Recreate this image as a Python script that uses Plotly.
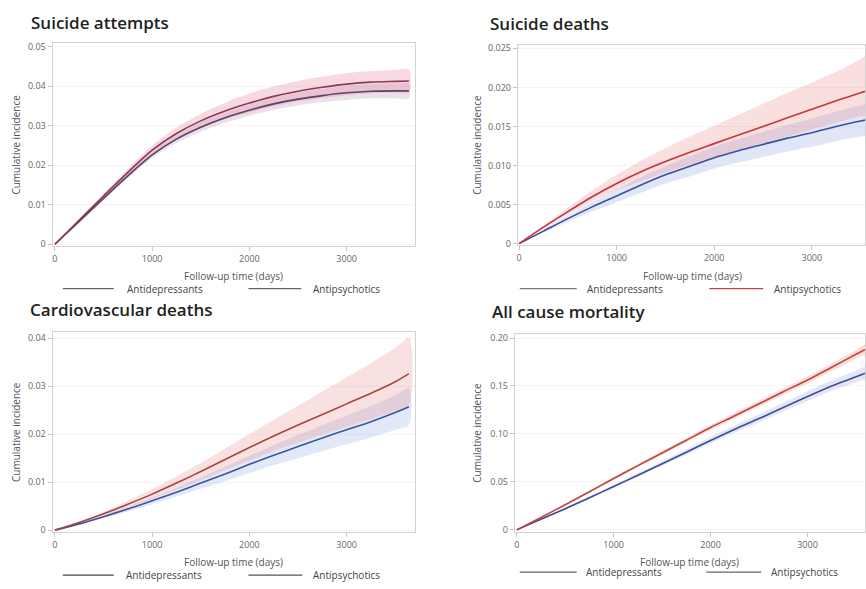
import plotly.graph_objects as go

# ---------------------------------------------------------------------------
# Cumulative incidence by follow-up day, antidepressants vs antipsychotics
# ---------------------------------------------------------------------------
days = [0, 250, 500, 750, 1000, 1250, 1500, 1750, 2000, 2250, 2500, 2750,
        3000, 3250, 3500, 3640]

# Suicide attempts
att_ap = [0, 0.0061, 0.0122, 0.0182, 0.0238, 0.0280, 0.0312, 0.0337, 0.0357,
          0.0374, 0.0387, 0.0397, 0.0405, 0.0410, 0.0412, 0.0413]
att_ap_hi = [0, 0.0064, 0.0128, 0.0191, 0.0250, 0.0295, 0.0330, 0.0358, 0.0381,
             0.0399, 0.0413, 0.0424, 0.0433, 0.0438, 0.0441, 0.0442]
att_ap_lo = [0, 0.0058, 0.0116, 0.0173, 0.0226, 0.0265, 0.0294, 0.0316, 0.0333,
             0.0349, 0.0361, 0.0370, 0.0377, 0.0382, 0.0383, 0.0384]
att_ad = [0, 0.0058, 0.0116, 0.0173, 0.0226, 0.0266, 0.0296, 0.0320, 0.0339,
          0.0355, 0.0367, 0.0376, 0.0383, 0.0387, 0.0388, 0.0388]
att_ad_hi = [0, 0.0060, 0.0120, 0.0179, 0.0234, 0.0276, 0.0308, 0.0333, 0.0353,
             0.0370, 0.0383, 0.0393, 0.0401, 0.0405, 0.0407, 0.0407]
att_ad_lo = [0, 0.0056, 0.0112, 0.0167, 0.0218, 0.0256, 0.0284, 0.0307, 0.0325,
             0.0340, 0.0351, 0.0359, 0.0365, 0.0369, 0.0369, 0.0369]

# Suicide deaths
sd_ap = [0, 0.0021, 0.0041, 0.0060, 0.0077, 0.0092, 0.0105, 0.0117, 0.0128,
         0.0139, 0.0150, 0.0161, 0.0172, 0.0183, 0.0193, 0.0199]
sd_ap_hi = [0, 0.0023, 0.0046, 0.0068, 0.0088, 0.0106, 0.0122, 0.0137, 0.0151,
            0.0165, 0.0179, 0.0193, 0.0206, 0.0220, 0.0236, 0.0245]
sd_ap_lo = [0, 0.0019, 0.0037, 0.0054, 0.0068, 0.0080, 0.0091, 0.0101, 0.0110,
            0.0119, 0.0128, 0.0137, 0.0146, 0.0155, 0.0163, 0.0167]
sd_ad = [0, 0.0016, 0.0032, 0.0047, 0.0061, 0.0075, 0.0088, 0.0099, 0.0110,
         0.0119, 0.0127, 0.0135, 0.0142, 0.0150, 0.0157, 0.0160]
sd_ad_hi = [0, 0.0018, 0.0036, 0.0053, 0.0069, 0.0085, 0.0099, 0.0112, 0.0124,
            0.0134, 0.0143, 0.0152, 0.0160, 0.0169, 0.0177, 0.0181]
sd_ad_lo = [0, 0.0014, 0.0028, 0.0041, 0.0053, 0.0065, 0.0077, 0.0086, 0.0096,
            0.0104, 0.0111, 0.0118, 0.0124, 0.0131, 0.0137, 0.0139]

# Cardiovascular deaths
cv_ap = [0, 0.0016, 0.0034, 0.0054, 0.0075, 0.0098, 0.0122, 0.0147, 0.0172,
         0.0196, 0.0219, 0.0241, 0.0263, 0.0285, 0.0309, 0.0326]
cv_ap_hi = [0, 0.0018, 0.0038, 0.0061, 0.0085, 0.0112, 0.0140, 0.0170, 0.0200,
            0.0230, 0.0259, 0.0289, 0.0318, 0.0348, 0.0380, 0.0400]
cv_ap_lo = [0, 0.0014, 0.0030, 0.0047, 0.0065, 0.0084, 0.0104, 0.0125, 0.0145,
            0.0165, 0.0182, 0.0199, 0.0215, 0.0231, 0.0248, 0.0260]
cv_ad = [0, 0.0013, 0.0028, 0.0044, 0.0061, 0.0079, 0.0098, 0.0117, 0.0137,
         0.0156, 0.0174, 0.0192, 0.0209, 0.0226, 0.0245, 0.0257]
cv_ad_hi = [0, 0.0014, 0.0031, 0.0049, 0.0068, 0.0088, 0.0110, 0.0132, 0.0155,
            0.0177, 0.0198, 0.0219, 0.0239, 0.0259, 0.0281, 0.0295]
cv_ad_lo = [0, 0.0012, 0.0025, 0.0039, 0.0054, 0.0070, 0.0086, 0.0102, 0.0119,
            0.0135, 0.0150, 0.0165, 0.0179, 0.0193, 0.0209, 0.0219]

# All cause mortality
ac_ap = [0, 0.0130, 0.0262, 0.0398, 0.0535, 0.0670, 0.0802, 0.0935, 0.1068,
         0.1190, 0.1315, 0.1440, 0.1562, 0.1695, 0.1830, 0.1905]
ac_ap_hi = [0, 0.0136, 0.0271, 0.0410, 0.0550, 0.0688, 0.0822, 0.0957, 0.1093,
            0.1218, 0.1345, 0.1473, 0.1598, 0.1735, 0.1875, 0.1953]
ac_ap_lo = [0, 0.0124, 0.0253, 0.0386, 0.0520, 0.0652, 0.0782, 0.0913, 0.1043,
            0.1162, 0.1285, 0.1407, 0.1526, 0.1655, 0.1785, 0.1857]
ac_ad = [0, 0.0110, 0.0220, 0.0335, 0.0452, 0.0570, 0.0690, 0.0810, 0.0932,
         0.1050, 0.1160, 0.1275, 0.1390, 0.1500, 0.1595, 0.1650]
ac_ad_hi = [0, 0.0116, 0.0230, 0.0350, 0.0470, 0.0592, 0.0716, 0.0840, 0.0967,
            0.1090, 0.1205, 0.1325, 0.1445, 0.1560, 0.1660, 0.1718]
ac_ad_lo = [0, 0.0105, 0.0212, 0.0323, 0.0437, 0.0552, 0.0668, 0.0784, 0.0902,
            0.1015, 0.1122, 0.1233, 0.1343, 0.1450, 0.1540, 0.1592]

x_ticks = [0, 1000, 2000, 3000]
att_ticks = [0, 0.01, 0.02, 0.03, 0.04, 0.05]
att_labels = ["0", "0.01", "0.02", "0.03", "0.04", "0.05"]
sd_ticks = [0, 0.005, 0.010, 0.015, 0.020, 0.025]
sd_labels = ["0", "0.005", "0.010", "0.015", "0.020", "0.025"]
cv_ticks = [0, 0.01, 0.02, 0.03, 0.04]
cv_labels = ["0", "0.01", "0.02", "0.03", "0.04"]
ac_ticks = [0, 0.05, 0.10, 0.15, 0.20]
ac_labels = ["0", "0.05", "0.10", "0.15", "0.20"]

titles = ["Suicide attempts", "Suicide deaths",
          "Cardiovascular deaths", "All cause mortality"]
group_names = ["Antidepressants", "Antipsychotics"]
x_title = "Follow-up time (days)"
y_title = "Cumulative incidence"

# ---------------------------------------------------------------------------
W, H = 866, 589
FONT = "Open Sans, Noto Sans, sans-serif"


def fx(p):
    return p / W


def fy(p):
    return 1 - p / H


panels = [
    dict(series=[(att_ad, att_ad_lo, att_ad_hi), (att_ap, att_ap_lo, att_ap_hi)],
         line=["#5d4264", "#8a3a56"],
         band=["rgba(165,120,160,0.22)", "rgba(228,120,150,0.28)"],
         box=(51.7, 415, 40, 245.6), xr=[-24, 3703], yr=[-0.0004, 0.0508],
         ticks=(att_ticks, att_labels),
         title=(28, 19), ylab=15, xlab=(233, 276),
         leg=(289, [(62, 113, 124, "#666"), (248, 301, 311, "#666")])),
    dict(series=[(sd_ad, sd_ad_lo, sd_ad_hi), (sd_ap, sd_ap_lo, sd_ap_hi)],
         line=["#3b4f9c", "#c8333d"],
         band=["rgba(120,140,220,0.22)", "rgba(235,120,120,0.24)"],
         box=(518, 866, 41.7, 244.5), xr=[-13, 3545], yr=[-0.00015, 0.02542],
         ticks=(sd_ticks, sd_labels),
         title=(488, 20), ylab=477, xlab=(693, 276),
         leg=(289, [(520, 577, 585, "#777"), (710, 764, 773, "#c8404a")])),
    dict(series=[(cv_ad, cv_ad_lo, cv_ad_hi), (cv_ap, cv_ap_lo, cv_ap_hi)],
         line=["#3d559e", "#a7463f"],
         band=["rgba(120,150,225,0.22)", "rgba(235,130,130,0.24)"],
         box=(51.7, 415, 333.3, 536), xr=[-24, 3703], yr=[-0.00035, 0.04123],
         ticks=(cv_ticks, cv_labels),
         title=(27, 310), ylab=15, xlab=(233, 567),
         leg=(580, [(62, 113, 123, "#444"), (248, 302, 311, "#555")])),
    dict(series=[(ac_ad, ac_ad_lo, ac_ad_hi), (ac_ap, ac_ap_lo, ac_ap_hi)],
         line=["#3c4e96", "#c0463c"],
         band=["rgba(130,140,220,0.22)", "rgba(235,120,110,0.26)"],
         box=(515, 866, 335, 536), xr=[-20, 3593], yr=[-0.002, 0.2043],
         ticks=(ac_ticks, ac_labels),
         title=(490, 312), ylab=477, xlab=(690, 567),
         leg=(577, [(520, 577, 584, "#666"), (707, 762, 770, "#666")])),
]

fig = go.Figure()
annotations = []
shapes = []
layout_axes = {}

for i, p in enumerate(panels, start=1):
    xa = "x" if i == 1 else f"x{i}"
    ya = "y" if i == 1 else f"y{i}"
    x0, x1, y0, y1 = p["box"]

    # confidence bands first, then the estimates on top
    for (est, lo, hi), col in zip(p["series"], p["band"]):
        fig.add_trace(go.Scatter(
            x=days + days[::-1], y=hi + lo[::-1], fill="toself",
            fillcolor=col, line=dict(width=0, shape="spline", smoothing=0.8),
            mode="lines", xaxis=xa, yaxis=ya, hoverinfo="skip",
            showlegend=False))
    for (est, lo, hi), col, name in zip(p["series"], p["line"], group_names):
        fig.add_trace(go.Scatter(
            x=days, y=est, mode="lines", name=name,
            line=dict(color=col, width=1.6, shape="spline", smoothing=0.8),
            xaxis=xa, yaxis=ya, showlegend=False))

    axis_common = dict(
        showline=True, mirror=True, linecolor="#d3d3d3", linewidth=1,
        ticks="outside", ticklen=4, tickcolor="#c8c8c8",
        tickfont=dict(family=FONT, size=9, color="#666"),
        showgrid=True, gridcolor="#f4f4f4", zeroline=False, fixedrange=True)
    key = "" if i == 1 else str(i)
    layout_axes["xaxis" + key] = dict(
        axis_common, domain=[fx(x0), fx(x1)], range=p["xr"],
        anchor=ya, tickvals=x_ticks, showgrid=False)
    layout_axes["yaxis" + key] = dict(
        axis_common, domain=[fy(y1), fy(y0)], range=p["yr"],
        anchor=xa, tickvals=p["ticks"][0], ticktext=p["ticks"][1])

    # panel heading
    tx, ty = p["title"]
    annotations.append(dict(
        text=titles[i - 1], x=fx(tx), y=fy(ty), xref="paper", yref="paper",
        xanchor="left", yanchor="middle", showarrow=False,
        font=dict(family=FONT, size=17, color="#222", weight=600)))
    # axis titles
    annotations.append(dict(
        text=y_title, x=fx(p["ylab"]), y=fy((y0 + y1) / 2), xref="paper",
        yref="paper", textangle=-90, showarrow=False,
        xanchor="center", yanchor="middle",
        font=dict(family=FONT, size=10, color="#555")))
    lx, ly = p["xlab"]
    annotations.append(dict(
        text=x_title, x=fx(lx), y=fy(ly), xref="paper", yref="paper",
        showarrow=False, xanchor="center", yanchor="middle",
        font=dict(family=FONT, size=10, color="#555")))
    # key below each panel
    leg_y, entries = p["leg"]
    for (a, b, t, col), name in zip(entries, group_names):
        shapes.append(dict(type="line", xref="paper", yref="paper",
                           x0=fx(a), x1=fx(b), y0=fy(leg_y), y1=fy(leg_y),
                           line=dict(color=col, width=1.2)))
        annotations.append(dict(
            text=name, x=fx(t), y=fy(leg_y), xref="paper", yref="paper",
            showarrow=False, xanchor="left", yanchor="middle",
            font=dict(family=FONT, size=10, color="#444")))

fig.update_layout(
    width=W, height=H, margin=dict(l=0, r=0, t=0, b=0),
    paper_bgcolor="white", plot_bgcolor="white",
    showlegend=False, hovermode=False,
    annotations=annotations, shapes=shapes, **layout_axes)

fig.write_html("out.html")
